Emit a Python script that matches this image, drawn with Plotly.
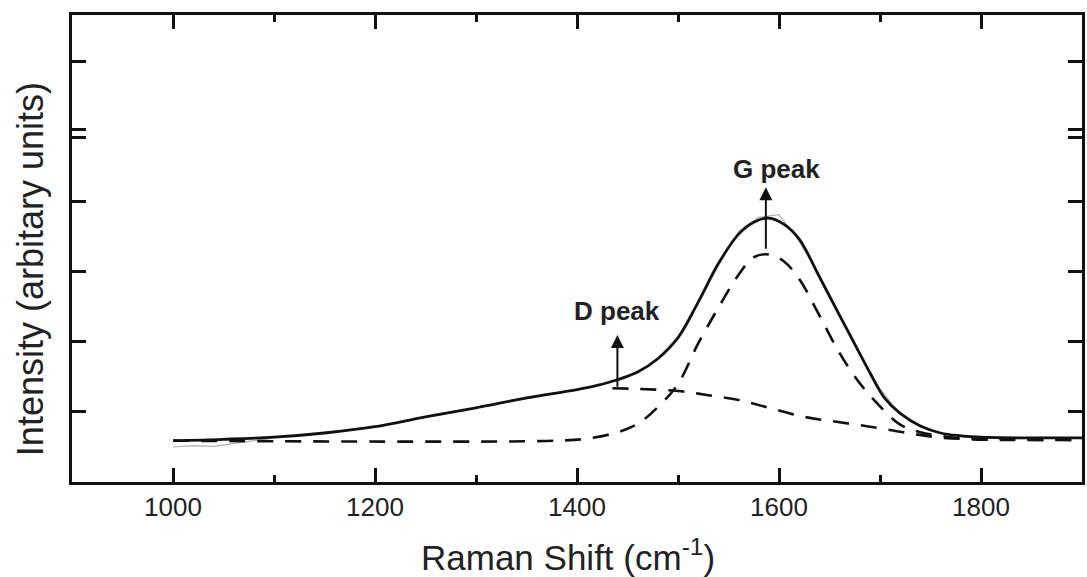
import plotly.graph_objects as go

# ---- data ----
fit_x = [1000, 1050, 1100, 1150, 1200, 1250, 1300, 1350, 1400, 1420, 1440, 1460, 1480, 1500,
         1520, 1540, 1560, 1575, 1590, 1605, 1620, 1640, 1660, 1675, 1690, 1705, 1720, 1740,
         1760, 1780, 1800, 1850, 1900]
fit_y = [0.59, 0.61, 0.64, 0.70, 0.79, 0.93, 1.06, 1.20, 1.32, 1.38, 1.46, 1.57, 1.76, 2.06,
         2.57, 3.12, 3.54, 3.71, 3.77, 3.68, 3.47, 2.93, 2.38, 1.97, 1.56, 1.19, 0.98, 0.80,
         0.70, 0.66, 0.64, 0.63, 0.63]

g_x = [1000, 1380, 1410, 1440, 1460, 1480, 1500, 1520, 1540, 1560, 1575, 1590, 1605, 1620,
       1640, 1660, 1680, 1700, 1720, 1740, 1770, 1800, 1900]
g_y = [0.59, 0.59, 0.62, 0.71, 0.83, 1.07, 1.40, 1.98, 2.49, 2.96, 3.21, 3.25, 3.15, 2.90,
       2.38, 1.84, 1.41, 1.08, 0.82, 0.71, 0.64, 0.62, 0.60]

d_x = [1435, 1460, 1500, 1530, 1560, 1590, 1625, 1657, 1690, 1723, 1756, 1790, 1830, 1900]
d_y = [1.34, 1.33, 1.30, 1.24, 1.17, 1.06, 0.93, 0.86, 0.79, 0.71, 0.64, 0.61, 0.60, 0.60]

raw_x = [1000, 1020, 1040, 1060, 1080, 1100, 1120, 1140, 1160, 1180, 1200, 1220, 1240, 1260,
         1280, 1300, 1320, 1340, 1360, 1380, 1400, 1420, 1440, 1460, 1480, 1500, 1520, 1540,
         1560, 1580, 1600, 1620, 1640, 1660, 1680, 1700, 1720, 1740, 1760, 1780, 1800, 1820,
         1840, 1860, 1880, 1900]
raw_y = [0.50, 0.52, 0.51, 0.55, 0.60, 0.63, 0.66, 0.69, 0.72, 0.76, 0.80, 0.84, 0.90, 0.97,
         1.01, 1.06, 1.10, 1.15, 1.21, 1.27, 1.31, 1.38, 1.45, 1.56, 1.77, 2.08, 2.55, 3.10,
         3.58, 3.78, 3.82, 3.44, 2.96, 2.36, 1.82, 1.33, 0.97, 0.79, 0.69, 0.65, 0.62, 0.63,
         0.62, 0.64, 0.63, 0.62]

x_ticks = [1000, 1200, 1400, 1600, 1800]
x_ticklabels = ["1000", "1200", "1400", "1600", "1800"]
y_ticks = [1, 2, 3, 4, 4.92, 5.04, 6]

peak_labels = ["D peak", "G peak"]
peak_x = [1440, 1587]
peak_base = [1.34, 3.31]
peak_tip = [2.10, 4.21]
label_xy = [(1440, 2.44), (1598, 4.47)]

FONT = "Liberation Sans, Arial, Helvetica, sans-serif"
DASH = "16px,12px"

fig = go.Figure()
fig.add_trace(go.Scatter(x=raw_x, y=raw_y, mode="lines",
                         line=dict(color="#b0b0b0", width=1.2), hoverinfo="skip"))
fig.add_trace(go.Scatter(x=g_x, y=g_y, mode="lines", line_shape="spline",
                         line=dict(color="#111111", width=2.6, dash=DASH)))
fig.add_trace(go.Scatter(x=d_x, y=d_y, mode="lines", line_shape="spline",
                         line=dict(color="#111111", width=2.6, dash=DASH)))
fig.add_trace(go.Scatter(x=fit_x, y=fit_y, mode="lines", line_shape="spline",
                         line=dict(color="#111111", width=2.8)))

annotations = []
for lbl, px, b, t, (lx, ly) in zip(peak_labels, peak_x, peak_base, peak_tip, label_xy):
    annotations.append(dict(x=px, y=t, ax=px, ay=b, xref="x", yref="y", axref="x", ayref="y",
                            text="", showarrow=True, arrowhead=2, arrowsize=1.3,
                            arrowwidth=2, arrowcolor="#111111"))
    annotations.append(dict(x=lx, y=ly, xref="x", yref="y", text="<b>" + lbl + "</b>",
                            showarrow=False, xanchor="center", yanchor="middle",
                            font=dict(family=FONT, size=26, color="#222222")))

annotations.append(dict(x=0.4906, y=-0.156, xref="paper", yref="paper",
                        xanchor="center", yanchor="middle",
                        text="Raman Shift (cm<sup>-1</sup>)", showarrow=False,
                        font=dict(family=FONT, size=35, color="#222222")))
annotations.append(dict(x=-0.0415, y=0.456, xref="paper", yref="paper",
                        xanchor="center", yanchor="middle",
                        text="Intensity (arbitary units)", textangle=-90, showarrow=False,
                        font=dict(family=FONT, size=36, color="#222222")))

fig.update_layout(
    width=1087, height=577,
    margin=dict(l=72, r=2, t=15, b=95),
    paper_bgcolor="white", plot_bgcolor="white",
    showlegend=False,
    annotations=annotations,
    xaxis=dict(range=[900, 1900], tickvals=x_ticks, ticktext=x_ticklabels,
               ticks="inside", ticklen=14, tickwidth=2.5, tickcolor="#111111",
               minor=dict(dtick=100, tick0=900, ticks="inside", ticklen=7, tickwidth=2.5,
                          tickcolor="#111111"),
               showline=True, linecolor="#111111", linewidth=2.5, mirror="ticks",
               showgrid=False, zeroline=False, ticklabelstandoff=0,
               tickfont=dict(family=FONT, size=26, color="#222222")),
    yaxis=dict(range=[0, 6.67], tickvals=y_ticks, showticklabels=False,
               ticks="inside", ticklen=14, tickwidth=2.5, tickcolor="#111111",
               showline=True, linecolor="#111111", linewidth=2.5, mirror="ticks",
               showgrid=False, zeroline=False),
)

fig.write_html("out.html")
